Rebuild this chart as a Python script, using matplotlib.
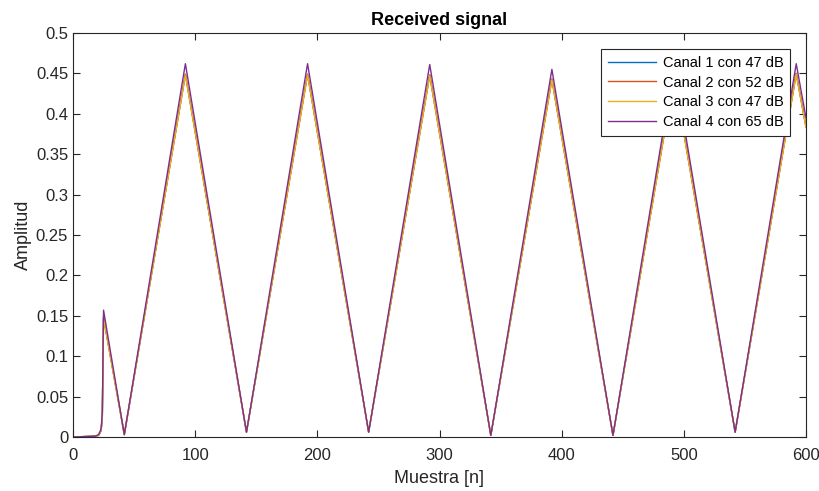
import matplotlib
matplotlib.use("Agg")
import matplotlib.pyplot as plt

plt.rcParams['font.family'] = ['Liberation Sans', 'DejaVu Sans']

# breakpoints of the received signal (sample index)
n = [0, 18, 21, 23, 24, 25, 42, 92, 142, 192, 242, 292, 342, 392, 442, 492, 542, 592, 600]

canal1 = [0, 0.001, 0.002, 0.008, 0.025, 0.148, 0.003, 0.449, 0.006, 0.449, 0.006, 0.448, 0.002, 0.443, 0.002, 0.447, 0.006, 0.450, 0.384]
canal2 = [0, 0.001, 0.002, 0.008, 0.025, 0.148, 0.003, 0.449, 0.006, 0.449, 0.006, 0.448, 0.002, 0.443, 0.002, 0.447, 0.006, 0.450, 0.384]
canal3 = [0, 0.001, 0.002, 0.008, 0.025, 0.147, 0.003, 0.448, 0.006, 0.448, 0.006, 0.447, 0.002, 0.442, 0.002, 0.446, 0.006, 0.449, 0.383]
canal4 = [0, 0.001, 0.003, 0.010, 0.030, 0.157, 0.003, 0.462, 0.006, 0.462, 0.006, 0.461, 0.002, 0.455, 0.002, 0.460, 0.006, 0.462, 0.395]

labels = ['Canal 1 con 47 dB', 'Canal 2 con 52 dB', 'Canal 3 con 47 dB', 'Canal 4 con 65 dB']
colors = ['#0072BD', '#D95319', '#EDB120', '#7E2F8E']

fig = plt.figure(figsize=(8.19, 4.91), dpi=100)
ax = fig.add_axes([73/819, 1-437/491, 733/819, 404/491])

for y, lab, c in zip([canal1, canal2, canal3, canal4], labels, colors):
    ax.plot(n, y, color=c, lw=1.0, label=lab)

ax.set_xlim(0, 600)
ax.set_ylim(0, 0.5)
ax.set_xticks(range(0, 601, 100))
ax.set_yticks([i*0.05 for i in range(11)])
ax.set_yticklabels(['0', '0.05', '0.1', '0.15', '0.2', '0.25', '0.3', '0.35', '0.4', '0.45', '0.5'])
ax.tick_params(direction='in', top=True, right=True, length=5, labelsize=12, colors='#262626')
ax.tick_params(axis='x', pad=8)
for s in ax.spines.values():
    s.set_color('#262626')
    s.set_linewidth(0.8)

ax.set_xlabel('Muestra [n]', fontsize=13, color='#262626', labelpad=5)
ax.set_ylabel('Amplitud', fontsize=13, color='#262626', labelpad=3)
ax.set_title('Received signal', fontsize=13, fontweight='bold', pad=6)

leg = ax.legend(loc='upper right', bbox_to_anchor=(0.978, 0.960), fontsize=10.5, frameon=True, fancybox=False,
                edgecolor='#262626', framealpha=1, borderpad=0.45, labelspacing=0.4, handlelength=3.3,
                handletextpad=0.45, borderaxespad=0)
leg.get_frame().set_linewidth(0.8)

fig.savefig('out.png', dpi=100)
